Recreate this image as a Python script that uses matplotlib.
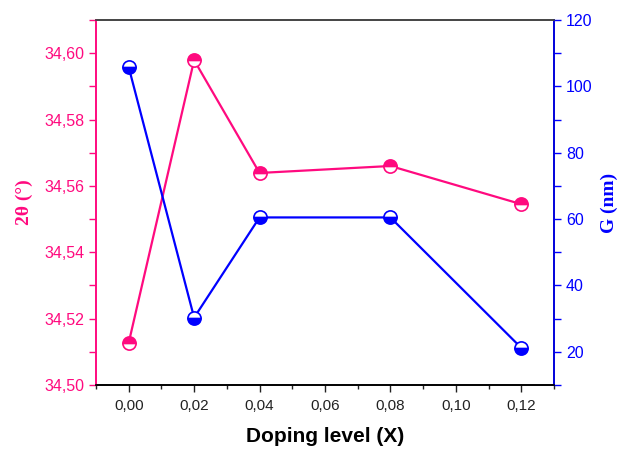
import numpy as np
import matplotlib.pyplot as plt
from matplotlib.ticker import MultipleLocator, FuncFormatter

doping = [0.00, 0.02, 0.04, 0.08, 0.12]
two_theta = [34.5127, 34.5979, 34.5639, 34.5660, 34.5545]
grain = [105.8, 30.3, 60.5, 60.5, 21.2]

pink = '#FF0A7F'
blue = '#0000FF'

plt.rcParams['font.family'] = ['Liberation Sans', 'DejaVu Sans']

fig = plt.figure(figsize=(6.2, 4.49), dpi=100)
ax = fig.add_axes([0.1548, 0.1425, 0.7387, 0.813])
ax2 = ax.twinx()

ax.plot(doping, two_theta, color=pink, lw=1.6, marker='o', ms=9.5,
        fillstyle='top', markerfacecoloralt='white', mec=pink, mew=1.2, zorder=3)
ax2.plot(doping, grain, color=blue, lw=1.6, marker='o', ms=9.5,
         fillstyle='bottom', markerfacecoloralt='white', mec=blue, mew=1.2, zorder=3)

ax.set_xlim(-0.01, 0.13)
ax.set_ylim(34.50, 34.61)
ax2.set_ylim(10, 120)

comma = lambda fmt: FuncFormatter(lambda v, p: (fmt % v).replace('.', ','))
ax.xaxis.set_major_locator(MultipleLocator(0.02))
ax.xaxis.set_minor_locator(MultipleLocator(0.01))
ax.xaxis.set_major_formatter(comma('%.2f'))
ax.yaxis.set_major_locator(MultipleLocator(0.02))
ax.yaxis.set_minor_locator(MultipleLocator(0.01))
ax.yaxis.set_major_formatter(comma('%.2f'))
ax2.yaxis.set_major_locator(MultipleLocator(20))
ax2.yaxis.set_minor_locator(MultipleLocator(10))

ax.tick_params(axis='x', which='major', direction='out', length=5, width=1, labelsize=11, colors='#222222', pad=5)
ax.tick_params(axis='x', which='minor', direction='out', length=3, width=1, colors='#222222')
ax.tick_params(axis='y', which='both', direction='out', width=1, colors=pink, labelsize=11.5, length=5)
ax2.tick_params(axis='y', which='both', direction='out', width=1, colors=blue, labelsize=11.5, length=5)

ax.spines['left'].set_color(pink)
ax2.spines['left'].set_color(pink)
ax2.spines['right'].set_color(blue)
ax2.spines['top'].set_color('#444444')
ax.spines['top'].set_color('#444444')
for a in (ax, ax2):
    for s in a.spines.values():
        s.set_linewidth(1.2)

ax.set_xlabel('Doping level (X)', fontsize=15, fontweight='bold', labelpad=10)
ax.set_ylabel('2θ (°)', fontsize=14, fontweight='bold', color=pink,
              family=['Liberation Serif', 'DejaVu Serif'], labelpad=8)
ax2.set_ylabel('G (nm)', fontsize=14, fontweight='bold', color=blue,
               family=['Liberation Serif', 'DejaVu Serif'], labelpad=6)

fig.savefig('out.png', dpi=100)
